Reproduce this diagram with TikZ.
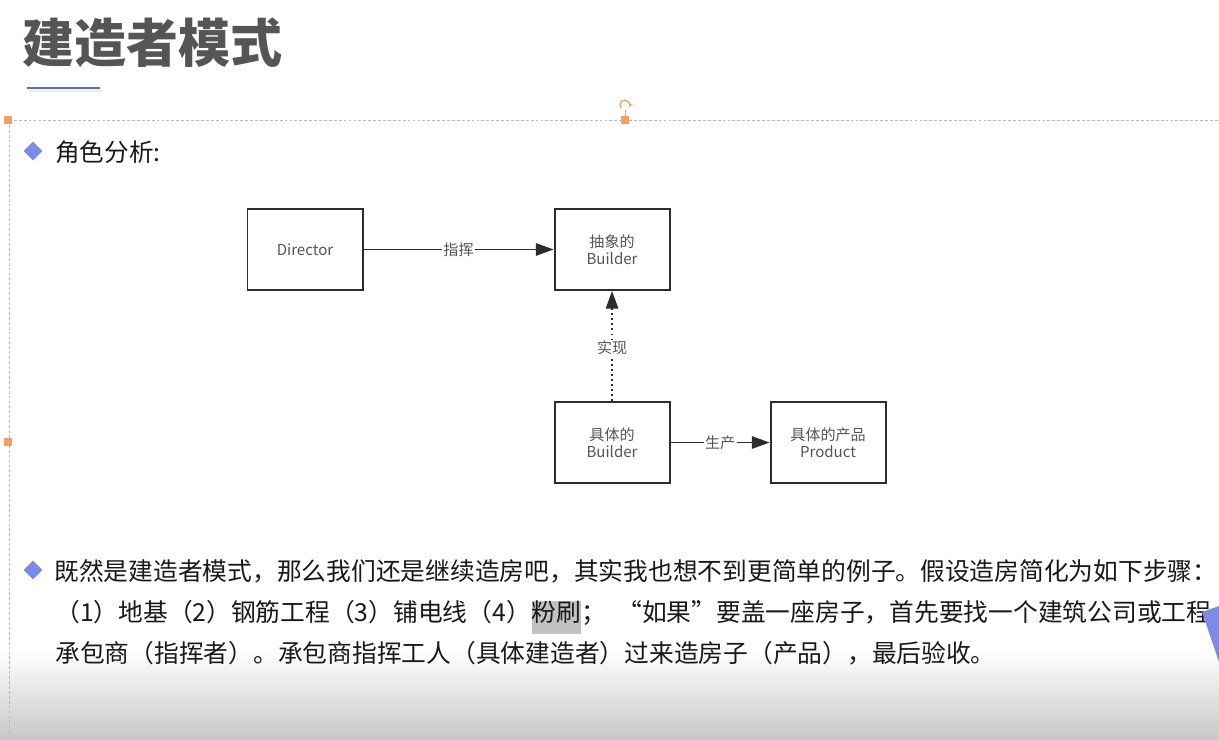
\documentclass[tikz,border=0pt]{standalone}
\usepackage{fontspec}
\setmainfont{Noto Sans CJK SC}
\usetikzlibrary{arrows.meta, positioning, shapes.geometric}
\definecolor{slTitle}{RGB}{85,85,85}
\definecolor{slBlue}{RGB}{123,140,232}
\definecolor{slLine}{RGB}{96,110,176}
\definecolor{slOrange}{RGB}{242,160,100}
\definecolor{slBox}{RGB}{45,45,45}
\definecolor{slText}{RGB}{85,85,85}
\definecolor{slInk}{RGB}{25,25,25}

\begin{document}
\begin{tikzpicture}[x=0.025cm, y=-0.025cm,
    box/.style={draw=slBox, line width=1.4pt, minimum width=2.875cm,
                minimum height=2.025cm, align=center, text=slText,
                font=\fontsize{10.7}{12.2}\selectfont},
    lbl/.style={fill=white, inner sep=1pt, text=slText,
                font=\fontsize{10.7}{12}\selectfont},
    link/.style={draw=slBox, line width=1.1pt,
                 -{Triangle[length=4.4mm, width=3.1mm]}},
    bullet/.style={diamond, fill=slBlue, minimum size=0.48cm, inner sep=0pt},
    para/.style={anchor=base west, inner sep=0pt, text=slInk,
                 font=\fontsize{17.6}{21}\selectfont},
    handle/.style={fill=slOrange, minimum size=0.18cm, inner sep=0pt}]
  \useasboundingbox (0,0) rectangle (1219,740);
  \clip (0,0) rectangle (1219,740);
  \fill[white] (0,0) rectangle (1219,740);
  % bottom fade
  \shade[top color=white, bottom color=black!22] (0,650) rectangle (1219,740);

  % title
  \node[anchor=west, inner sep=0pt, text=slTitle,
        font=\fontsize{37}{40}\selectfont\bfseries] (title) at (22,43) {建造者模式};
  \draw[black!8, line width=2pt] (29,91) -- (102,91);
  \draw[slLine, line width=2pt] (27,88) -- (100,88);

  % selection frame
  \draw[black!28, line width=0.5pt, dash pattern=on 2pt off 1.5pt] (9,120) -- (1219,120);
  \draw[black!28, line width=0.5pt, dash pattern=on 2pt off 1.5pt] (9,120) -- (9,740);
  \node[handle] (h1) at (8,120) {};
  \node[handle] (h2) at (625,120) {};
  \node[handle] (h3) at (8,442) {};
  \draw[slOrange, line width=0.6pt] (h2) -- (625,110);
  \draw[slOrange, line width=0.9pt, -{Stealth[length=1.2mm]}]
    (621,108) arc[start angle=220, end angle=-30, radius=0.12cm];

  % roles
  \node[bullet] (b1) at (33,151) {};
  \node[para, anchor=west, font=\fontsize{17.5}{20}\selectfont] (roles) at (55,152) {角色分析:};

  % diagram
  \node[box] (dir) at (305,249.5) {Director};
  \node[box, right=4.75cm of dir] (abs) {抽象的\\Builder};
  \node[box, below=2.75cm of abs] (con) {具体的\\Builder};
  \node[box, right=2.475cm of con] (prd) {具体的产品\\Product};
  \draw[link] (dir) -- node[lbl] {指挥} (abs);
  \draw[link, dash pattern=on 1.2pt off 2.4pt] (con) -- node[lbl, pos=0.48] {实现} (abs);
  \draw[link] (con) -- node[lbl] {生产} (prd);

  % story
  \node[bullet] (b2) at (33,570) {};
  \node[para] (l1) at (54,581)
    {既然是建造者模式，那么我们还是继续造房吧，其实我也想不到更简单的例子。假设造房简化为如下步骤：};
  \node[para] (l2a) at (55,622) {（1）地基（2）钢筋工程（3）铺电线（4）};
  \node[para, fill=black!24, text height=0.82em, text depth=0.2em, inner ysep=6.5pt]
    (l2b) at (l2a.base east) {粉刷};
  \node[para] (l2c) at (l2b.base east) {；\ \ “如果”要盖一座房子，首先要找一个建筑公司或工程};
  \node[para] (l3) at (55,663)
    {承包商（指挥者）。承包商指挥工人（具体建造者）过来造房子（产品），最后验收。};
  \fill[slBlue] (1202,612) -- (1219,606) -- (1219,662) -- cycle;
\end{tikzpicture}
\end{document}
